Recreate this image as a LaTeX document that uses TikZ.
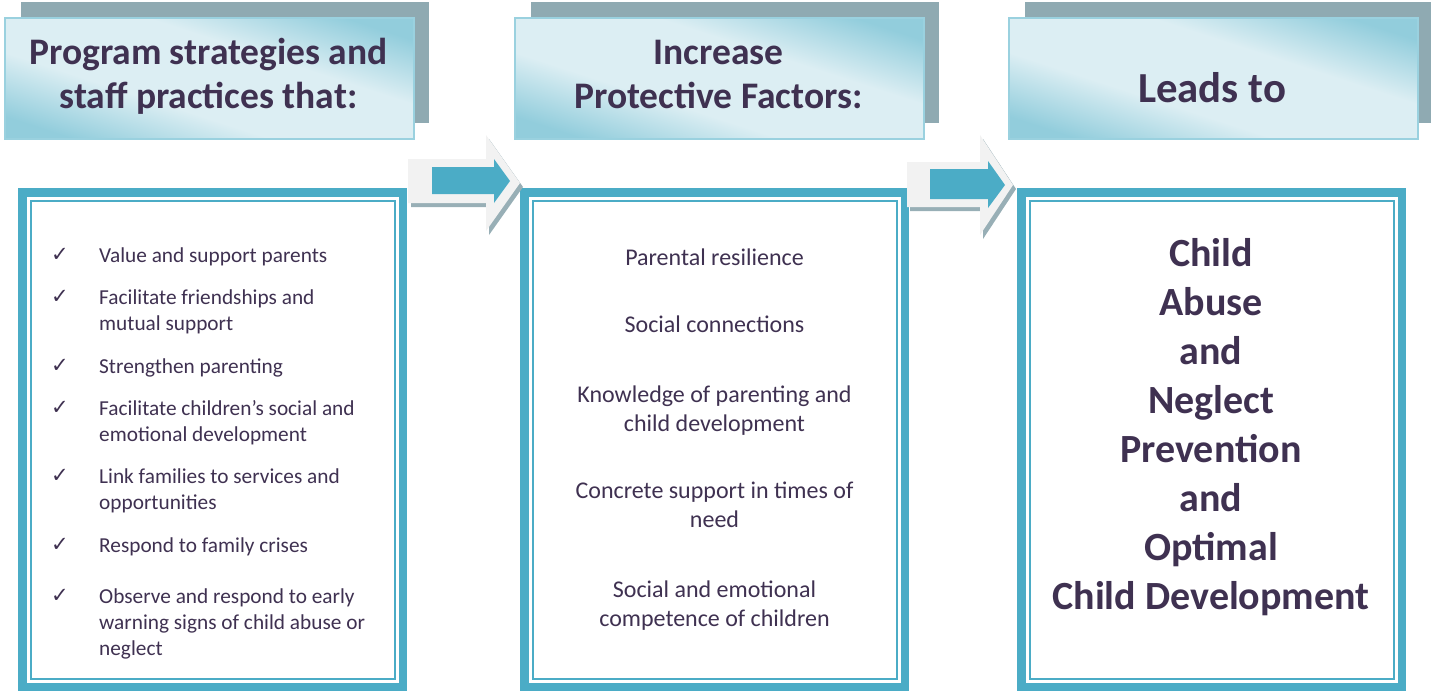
\documentclass[tikz,border=0pt]{standalone}
\usepackage{fontspec}
\setmainfont{Carlito}
\newfontfamily\symfont{DejaVu Sans}
\definecolor{txt}{HTML}{3F3151}
\definecolor{teal5}{HTML}{4BACC6}
\definecolor{hlight}{HTML}{DCEEF3}
\definecolor{hdark}{HTML}{92CDDC}
\definecolor{hborder}{HTML}{9AD1DF}
\definecolor{hshadow}{HTML}{8FAAB2}
\definecolor{arrgray}{HTML}{F2F2F2}
\definecolor{arrshadow}{HTML}{98AFB6}
\pgfdeclareverticalshading{hdrshade}{100bp}{color(0bp)=(hdark); color(24bp)=(hdark); color(40bp)=(hlight); color(60bp)=(hlight); color(76bp)=(hdark); color(100bp)=(hdark)}
\newcommand\lnstrut{\rule{0pt}{0.85em}}
\begin{document}
\begin{tikzpicture}[x=1pt,y=-1pt,
  hdrshadow/.style={fill=hshadow, draw=none, minimum width=408pt, minimum height=121pt, inner sep=0pt, anchor=north west},
  hdrbox/.style={shade, shading=hdrshade, shading angle=-18, draw=hborder, line width=1.5pt, minimum width=409pt, minimum height=121pt, inner sep=0pt, anchor=north west},
  hdrtext/.style={font=\bfseries\fontsize{37.5}{44}\selectfont, text=txt, align=center, inner sep=0pt, anchor=north},
  outerbox/.style={fill=teal5, minimum width=389pt, minimum height=503pt, inner sep=0pt, anchor=north west},
  whitebox/.style={fill=white, minimum width=372pt, minimum height=486pt, inner sep=0pt},
  thinbox/.style={draw=teal5, line width=2pt, minimum width=364pt, minimum height=478pt, inner sep=0pt},
  listitem/.style={font=\fontsize{21.3}{26}\selectfont, text=txt, align=left, inner sep=0pt, anchor=north west},
  checkmark/.style={font=\symfont\fontsize{21}{21}\selectfont, text=txt, inner sep=0pt, anchor=base west},
  factor/.style={font=\fontsize{24}{29}\selectfont, text=txt, align=center, inner sep=0pt, anchor=north},
  outcome/.style={font=\bfseries\fontsize{40}{49}\selectfont, text=txt, align=center, inner sep=0pt, anchor=north},
  arrbody/.style={fill=arrgray},
  arrshade/.style={fill=arrshadow},
  arrfill/.style={fill=teal5}
]
\useasboundingbox (0,0) rectangle (1431,691);
% header shadows
\node[hdrshadow] (s1) at (21,2) {};
\node[hdrshadow] (s2) at (531,2) {};
\node[hdrshadow] (s3) at (1025,2) {};
% header boxes
\node[hdrbox] (h1) at (4,17) {};
\node[hdrbox] (h2) at (514,17) {};
\node[hdrbox] (h3) at (1008,17) {};
\node[hdrtext] (t1) at (208.5,32.1) {\lnstrut Program strategies and\\staff practices that:};
\node[hdrtext] (t2) at (718.5,32.1) {\lnstrut Increase\\Protective Factors:};
\node[hdrtext, font=\bfseries\fontsize{42.8}{50}\selectfont, anchor=base] (t3) at (1212,102) {Leads to};
% bottom boxes
\node[outerbox] (b1) at (18,188) {};
\node[whitebox] (w1) at (b1.center) {};
\node[thinbox] (n1) at (b1.center) {};
\node[outerbox] (b2) at (520,188) {};
\node[whitebox] (w2) at (b2.center) {};
\node[thinbox] (n2) at (b2.center) {};
\node[outerbox] (b3) at (1017,188) {};
\node[whitebox] (w3) at (b3.center) {};
\node[thinbox] (n3) at (b3.center) {};
% left list
\node[checkmark] (c1) at (51,261) {✓};
\node[listitem] (l1) at (99,243.9) {\lnstrut Value and support parents};
\node[checkmark] (c2) at (51,303) {✓};
\node[listitem] (l2) at (99,285.9) {\lnstrut Facilitate friendships and\\mutual support};
\node[checkmark] (c3) at (51,372) {✓};
\node[listitem] (l3) at (99,354.9) {\lnstrut Strengthen parenting};
\node[checkmark] (c4) at (51,414) {✓};
\node[listitem] (l4) at (99,396.9) {\lnstrut Facilitate children’s social and\\emotional development};
\node[checkmark] (c5) at (51,482) {✓};
\node[listitem] (l5) at (99,464.9) {\lnstrut Link families to services and\\opportunities};
\node[checkmark] (c6) at (51,551) {✓};
\node[listitem] (l6) at (99,533.9) {\lnstrut Respond to family crises};
\node[checkmark] (c7) at (51,602) {✓};
\node[listitem] (l7) at (99,584.9) {\lnstrut Observe and respond to early\\warning signs of child abuse or\\neglect};
% middle list
\node[factor] (f1) at (714.5,244.6) {\lnstrut Parental resilience};
\node[factor] (f2) at (714.5,311.6) {\lnstrut Social connections};
\node[factor] (f3) at (714.5,381.6) {\lnstrut Knowledge of parenting and\\child development};
\node[factor] (f4) at (714.5,477.6) {\lnstrut Concrete support in times of\\need};
\node[factor] (f5) at (714.5,576.6) {\lnstrut Social and emotional\\competence of children};
% outcome
\node[outcome] (o1) at (1211,232) {\lnstrut Child\\Abuse\\and\\Neglect\\Prevention\\and\\Optimal\\Child Development};
% arrows
\fill[arrshade] (411,163) -- (489,163) -- (489,139) -- (523,187) -- (489,235) -- (489,207) -- (411,207) -- cycle;
\fill[arrbody] (408,159) -- (486,159) -- (486,135) -- (520,183) -- (486,231) -- (486,203) -- (408,203) -- cycle;
\fill[arrfill] (432,167) -- (494,167) -- (494,159) -- (510,181) -- (494,203) -- (494,194) -- (432,194) -- cycle;
\fill[arrshade] (910,166) -- (983,166) -- (983,139) -- (1016,189) -- (983,239) -- (983,211) -- (910,211) -- cycle;
\fill[arrbody] (907,162) -- (980,162) -- (980,135) -- (1013,185) -- (980,235) -- (980,207) -- (907,207) -- cycle;
\fill[arrfill] (930,169) -- (988,169) -- (988,161) -- (1005,185) -- (988,208) -- (988,199) -- (930,199) -- cycle;
\end{tikzpicture}
\end{document}
